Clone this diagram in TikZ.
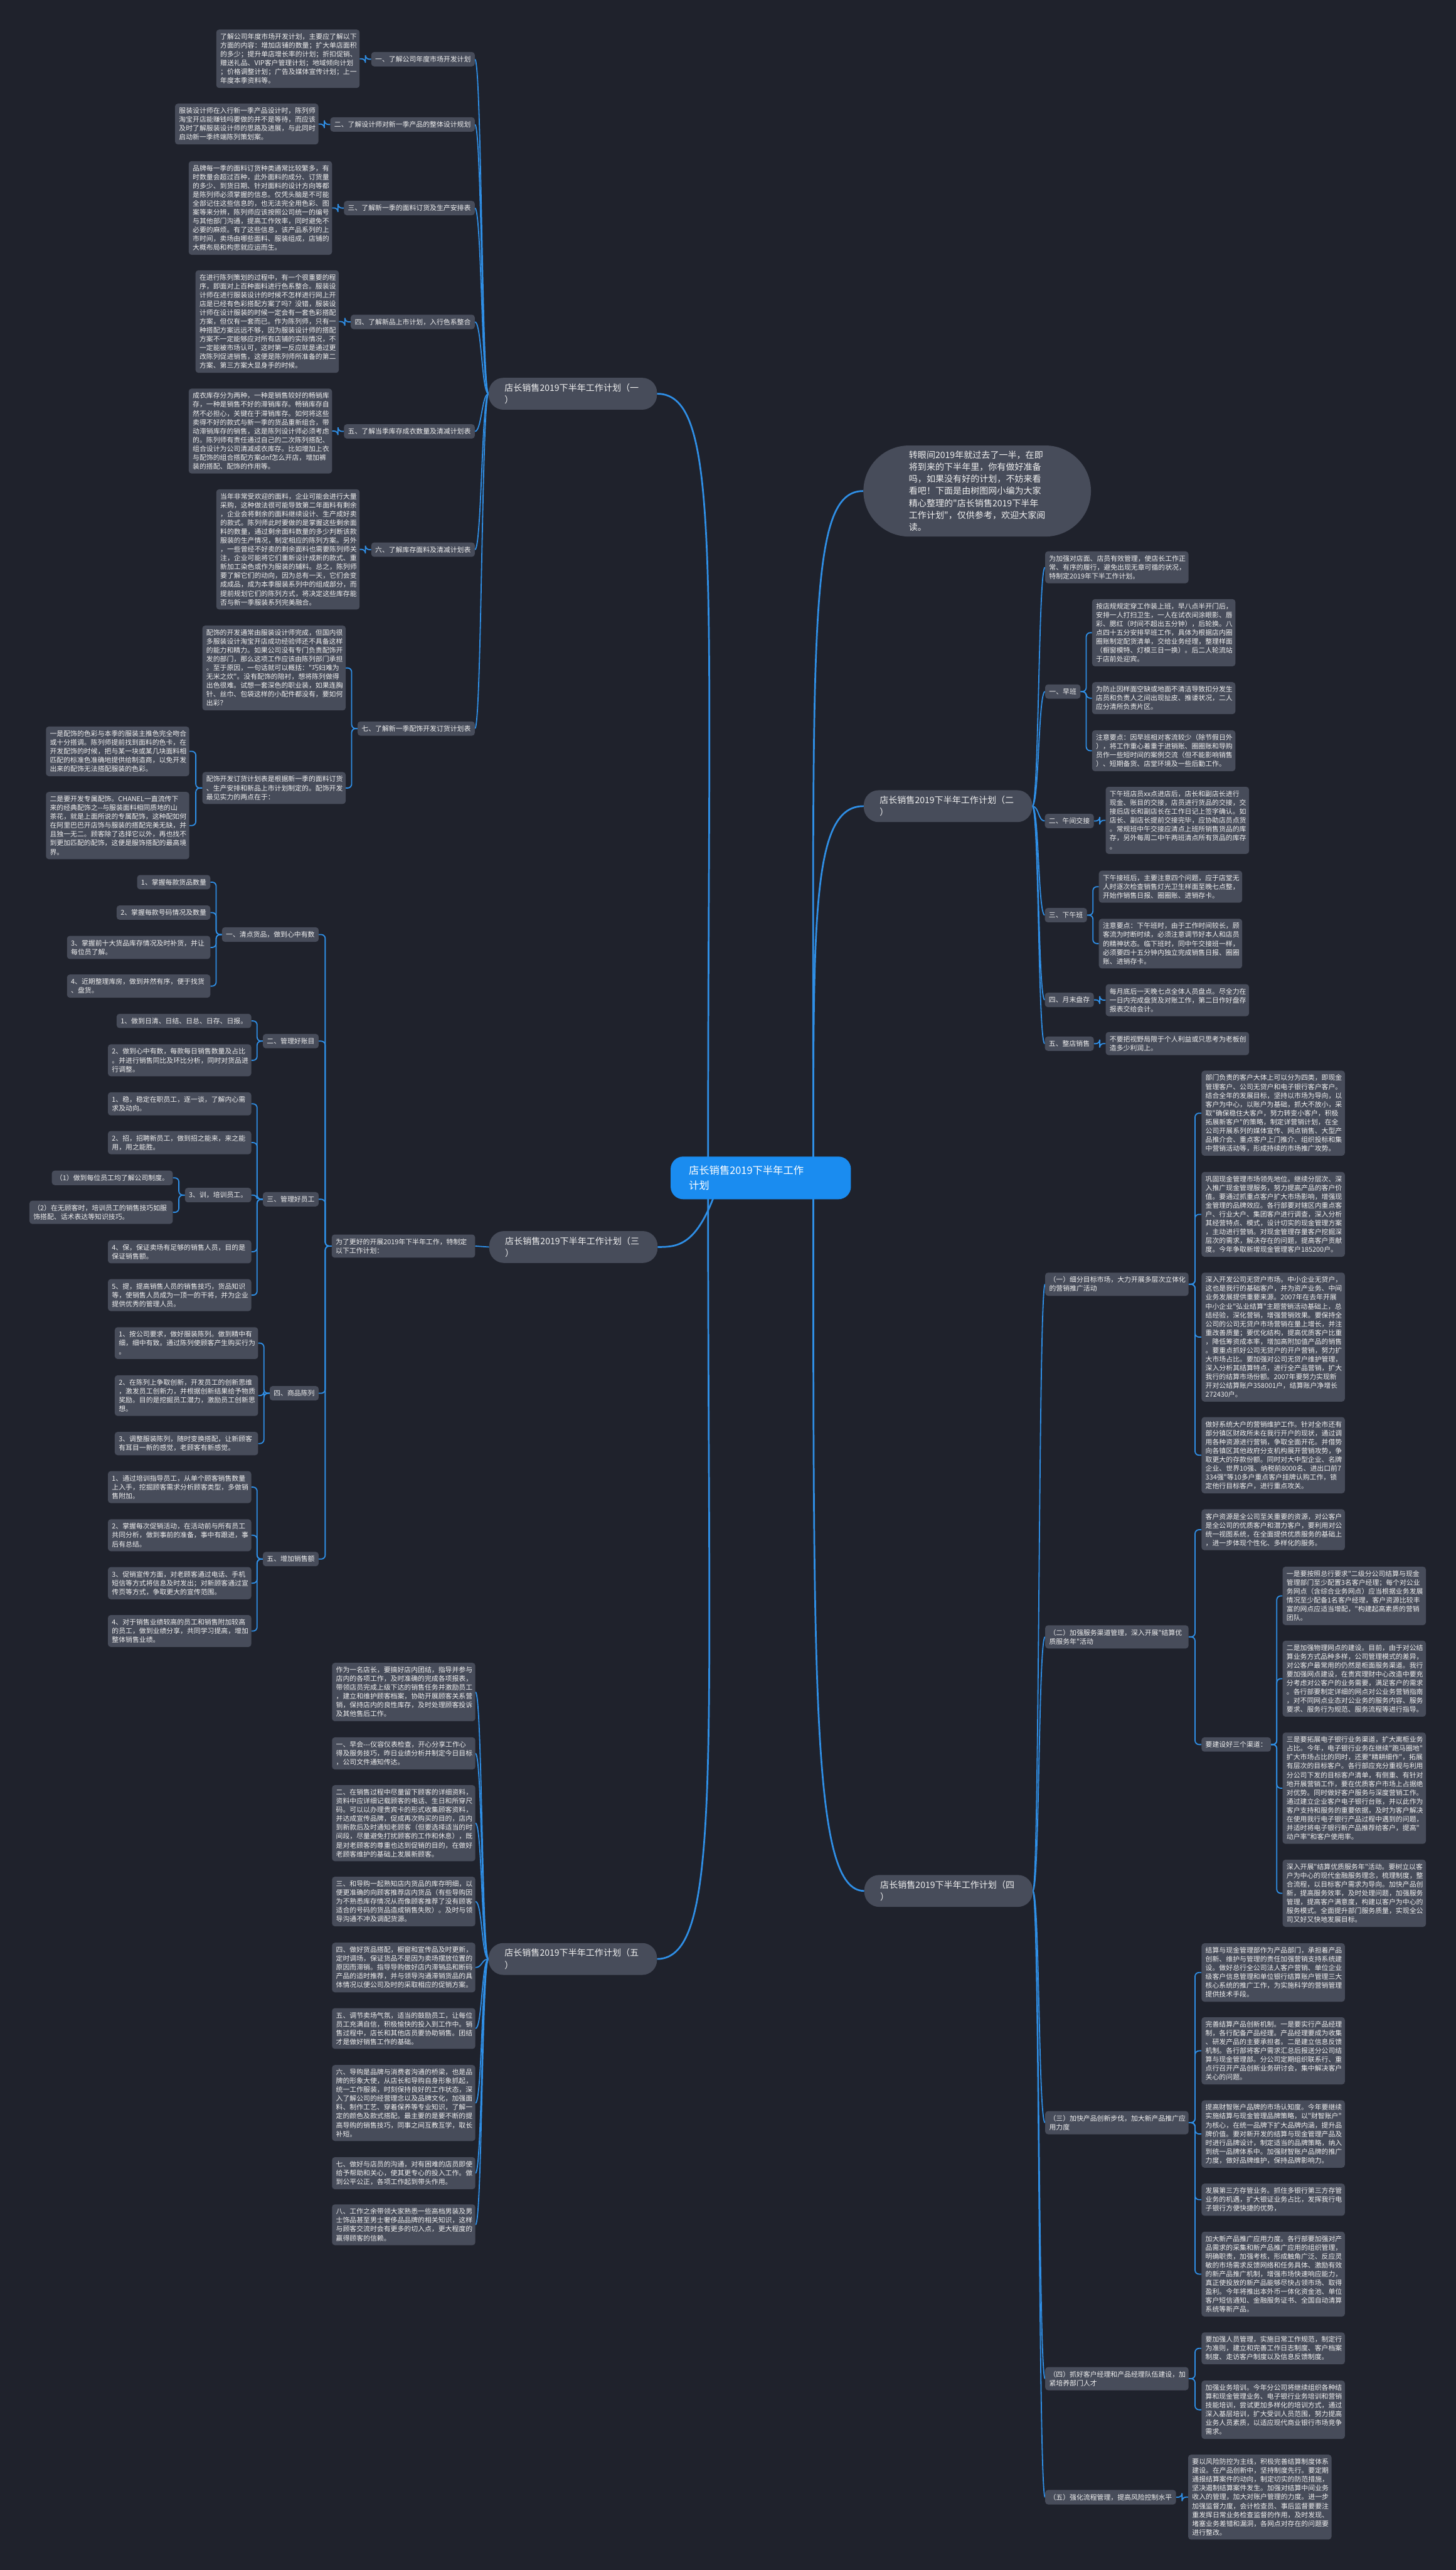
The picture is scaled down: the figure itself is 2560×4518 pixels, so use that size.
\documentclass[tikz,border=0pt]{standalone}
\usepackage{fontspec}
\setmainfont{Noto Sans CJK SC}[Ligatures=TeXOff]
\usetikzlibrary{calc}
\pgfdeclarelayer{back}\pgfdeclarelayer{bg}
\pgfsetlayers{back,bg,main}
\definecolor{bgc}{HTML}{1F222C}
\definecolor{boxc}{HTML}{474C5A}
\definecolor{linec}{HTML}{2F8FE6}
\definecolor{txtc}{HTML}{F0F0F0}
\definecolor{ctrc}{HTML}{1A8CF0}
\newcommand\bodyf{\fontsize{12}{15.5}\selectfont}
\newcommand\lvf{\fontsize{15.5}{21}\selectfont}
\newcommand\ctf{\fontsize{18}{26}\selectfont}
\newcommand\bubf{\fontsize{15.5}{21.2}\selectfont}
\newcommand\lcv[2]{\draw[cv] (#1.west) .. controls +(-12,0) and +(12,0) .. (#2.east);}
\newcommand\rcv[2]{\draw[cv] (#1.east) .. controls +(12,0) and +(-12,0) .. (#2.west);}
\newcommand\leb[2]{\draw[eb] (#1.west) -- ($(#1.west)!0.5!(#1.west-|#2.east)$) |- (#2.east);}
\newcommand\reb[2]{\draw[eb] (#1.east) -- ($(#1.east)!0.5!(#1.east-|#2.west)$) |- (#2.west);}
\begin{document}
\begin{tikzpicture}[x=1pt,y=-1pt,
 bx/.style={fill=boxc,rounded corners=5pt,text=txtc,font=\bodyf,inner xsep=7pt,inner ysep=7pt,align=left},
 wb/.style={bx,text width=238pt},
 lv/.style={fill=boxc,rounded corners=26pt,text=txtc,font=\lvf,inner xsep=28pt,inner ysep=8pt,text width=240pt,minimum height=56pt,align=left},
 eb/.style={draw=linec,line width=2pt,rounded corners=7pt},
 cv/.style={draw=linec,line width=2pt},
 mc/.style={draw=linec,line width=3pt}]
\useasboundingbox (0,0) rectangle (2560,4518);
\begin{pgfonlayer}{back}\fill[bgc] (0,0) rectangle (2560,4518);\end{pgfonlayer}

% ---------- center ----------
\node[fill=ctrc,rounded corners=22pt,text=white,font=\ctf,inner xsep=32pt,inner ysep=10pt,text width=253pt,minimum height=75pt,align=left,anchor=north west] (C) at (1179,2033) {店长销售2019下半年工作\\计划};

% ---------- (一) ----------
\node[lv,anchor=north west] (N1) at (859,664) {店长销售2019下半年工作计划（一\\）};
\node[bx,anchor=north east] (L11) at (835,91.3) {一、了解公司年度市场开发计划};
\node[wb,anchor=north east] (A1) at (632.5,51.8) {了解公司年度市场开发计划，主要应了解以下\\方面的内容：增加店铺的数量；扩大单店面积\\的多少；提升单店增长率的计划；折扣促销、\\赠送礼品、VIP客户管理计划；地域倾向计划\\；价格调整计划；广告及媒体宣传计划；上一\\年度本季资料等。};
\node[bx,anchor=north east] (L12) at (835,206) {二、了解设计师对新一季产品的整体设计规划};
\node[wb,anchor=north east] (A2) at (560,182) {服装设计师在入行新一季产品设计时，陈列师\\淘宝开店能赚钱吗要做的并不是等待，而应该\\及时了解服装设计师的思路及进展，与此同时\\启动新一季终端陈列策划案。};
\node[bx,anchor=north east] (L13) at (835,353) {三、了解新一季的面料订货及生产安排表};
\node[wb,anchor=north east] (A3) at (584,283) {品牌每一季的面料订货种类通常比较繁多，有\\时数量会超过百种，此外面料的成分、订货量\\的多少、到货日期、针对面料的设计方向等都\\是陈列师必须掌握的信息。仅凭头脑是不可能\\全部记住这些信息的，也无法完全用色彩、图\\案等来分辨，陈列师应该按照公司统一的编号\\与其他部门沟通，提高工作效率，同时避免不\\必要的麻烦。有了这些信息，该产品系列的上\\市时间，卖场由哪些面料、服装组成，店铺的\\大概布局和构思就应运而生。};
\node[bx,anchor=north east] (L14) at (835,553) {四、了解新品上市计划，入行色系整合};
\node[wb,anchor=north east] (A4) at (596,475) {在进行陈列策划的过程中，有一个很重要的程\\序，即面对上百种面料进行色系整合。服装设\\计师在进行服装设计的时候不怎样进行网上开\\店是已经有色彩搭配方案了吗？没错，服装设\\计师在设计服装的时候一定会有一套色彩搭配\\方案，但仅有一套而已。作为陈列师，只有一\\种搭配方案远远不够，因为服装设计师的搭配\\方案不一定能够应对所有店铺的实际情况，不\\一定能被市场认可，这时第一反应就是通过更\\改陈列促进销售，这便是陈列师所准备的第二\\方案、第三方案大显身手的时候。};
\node[bx,anchor=north east] (L15) at (835,745.6) {五、了解当季库存成衣数量及清减计划表};
\node[wb,anchor=north east] (A5) at (584,683) {成衣库存分为两种，一种是销售较好的畅销库\\存，一种是销售不好的滞销库存。畅销库存自\\然不必担心，关键在于滞销库存。如何将这些\\卖得不好的款式与新一季的货品重新组合，带\\动滞销库存的销售，这是陈列设计师必须考虑\\的。陈列师有责任通过自己的二次陈列搭配、\\组合设计为公司清减成衣库存。比如增加上衣\\与配饰的组合搭配方案dnf怎么开店，增加裤\\装的搭配、配饰的作用等。};
\node[bx,anchor=north east] (L16) at (835,953.5) {六、了解库存面料及清减计划表};
\node[wb,anchor=north east] (A6) at (632.5,860) {当年非常受欢迎的面料，企业可能会进行大量\\采购，这种做法很可能导致第二年面料有剩余\\，企业会将剩余的面料继续设计、生产成好卖\\的款式。陈列师此时要做的是掌握这些剩余面\\料的数量，通过剩余面料数量的多少判断该款\\服装的生产情况，制定相应的陈列方案。另外\\，一些曾经不好卖的剩余面料也需要陈列师关\\注，企业可能将它们重新设计成新的款式、重\\新加工染色或作为服装的辅料。总之，陈列师\\要了解它们的动向，因为总有一天，它们会变\\成成品，成为本季服装系列中的组成部分，而\\提前规划它们的陈列方式，将决定这些库存能\\否与新一季服装系列完美融合。};
\node[bx,anchor=north east] (L17) at (835,1268) {七、了解新一季配饰开发订货计划表};
\node[wb,anchor=north east] (A7a) at (608,1099.5) {配饰的开发通常由服装设计师完成，但国内很\\多服装设计淘宝开店成功经验师还不具备这样\\的能力和精力。如果公司没有专门负责配饰开\\发的部门，那么这项工作应该由陈列部门承担\\。至于原因，一句话就可以概括："巧妇难为\\无米之炊"。没有配饰的陪衬，想将陈列做得\\出色很难。试想一套深色的职业装，如果连胸\\针、丝巾、包袋这样的小配件都没有，要如何\\出彩？};
\node[wb,anchor=north east] (A7b) at (608,1357) {配饰开发订货计划表是根据新一季的面料订货\\、生产安排和新品上市计划制定的。配饰开发\\最见实力的两点在于：};
\node[wb,anchor=north east] (A7b1) at (333,1277) {一是配饰的色彩与本季的服装主推色完全吻合\\或十分搭调。陈列师提前找到面料的色卡，在\\开发配饰的时候，把与某一块或某几块面料相\\匹配的标准色准确地提供给制造商，以免开发\\出来的配饰无法搭配服装的色彩。};
\node[wb,anchor=north east] (A7b2) at (333,1392) {二是要开发专属配饰。CHANEL一直流传下\\来的经典配饰之-{}-与服装面料相同质地的山\\茶花，就是上面所说的专属配饰，这种配如何\\在阿里巴巴开店饰与服装的搭配完美无缺，并\\且独一无二。顾客除了选择它以外，再也找不\\到更加匹配的配饰，这便是服饰搭配的最高境\\界。};

% ---------- (三) ----------
\node[lv,anchor=north west] (N3) at (860,2164) {店长销售2019下半年工作计划（三\\）};
\node[wb,anchor=north east] (T0) at (835.5,2170) {为了更好的开展2019年下半年工作，特制定\\以下工作计划：};
\node[bx,anchor=north east] (T1) at (560.5,1630) {一、清点货品，做到心中有数};
\node[bx,anchor=north east] (T1a) at (370,1538) {1、掌握每款货品数量};
\node[bx,anchor=north east] (T1b) at (370,1591.5) {2、掌握每款号码情况及数量};
\node[wb,anchor=north east] (T1c) at (370,1645) {3、掌握前十大货品库存情况及时补货，并让\\每位员了解。};
\node[wb,anchor=north east] (T1d) at (370,1713) {4、近期整理库房，做到井然有序，便于找货\\、盘货。};
\node[bx,anchor=north east] (T2) at (560.5,1817.5) {二、管理好账目};
\node[bx,anchor=north east] (T2a) at (442,1782) {1、做到日清、日结、日总、日存、日报。};
\node[wb,anchor=north east] (T2b) at (442,1835.7) {2、做到心中有数，每款每日销售数量及占比\\。并进行销售同比及环比分析，同时对货品进\\行调整。};
\node[bx,anchor=north east] (T3) at (560.5,2095.5) {三、管理好员工};
\node[wb,anchor=north east] (T3a) at (442,1920) {1、稳，稳定在职员工，逐一谈，了解内心需\\求及动向。};
\node[wb,anchor=north east] (T3b) at (442,1988) {2、招，招聘新员工，做到招之能来，来之能\\用，用之能胜。};
\node[bx,anchor=north east] (T3c) at (442,2088) {3、训，培训员工。};
\node[bx,anchor=north east] (T3c1) at (304,2057.7) {（1）做到每位员工均了解公司制度。};
\node[wb,anchor=north east] (T3c2) at (304,2110.6) {（2）在无顾客时，培训员工的销售技巧如服\\饰搭配、话术表达等知识技巧。};
\node[wb,anchor=north east] (T3d) at (442,2180) {4、保，保证卖场有足够的销售人员，目的是\\保证销售额。};
\node[wb,anchor=north east] (T3e) at (442,2248.5) {5、提，提高销售人员的销售技巧，货品知识\\等，使销售人员成为一顶一的干将，并为企业\\提供优秀的管理人员。};
\node[bx,anchor=north east] (T4) at (560.5,2436.5) {四、商品陈列};
\node[wb,anchor=north east] (T4a) at (454,2333) {1、按公司要求，做好服装陈列。做到精中有\\细，细中有致。通过陈列使顾客产生购买行为\\。};
\node[wb,anchor=north east] (T4b) at (454,2417.5) {2、在陈列上争取创新，开发员工的创新思维\\，激发员工创新力，并根据创新结果给予物质\\奖励。目的是挖掘员工潜力，激励员工创新思\\想。};
\node[wb,anchor=north east] (T4c) at (454,2517) {3、调整服装陈列，随时变换搭配，让新顾客\\有耳目一新的感觉，老顾客有新感觉。};
\node[bx,anchor=north east] (T5) at (560.5,2728) {五、增加销售额};
\node[wb,anchor=north east] (T5a) at (442,2586) {1、通过培训指导员工，从单个顾客销售数量\\上入手，挖掘顾客需求分析顾客类型，多做销\\售附加。};
\node[wb,anchor=north east] (T5b) at (442,2670.6) {2、掌握每次促销活动，在活动前与所有员工\\共同分析，做到事前的准备，事中有跟进，事\\后有总结。};
\node[wb,anchor=north east] (T5c) at (442,2754.7) {3、促销宣传方面，对老顾客通过电话、手机\\短信等方式将信息及时发出；对新顾客通过宣\\传页等方式，争取更大的宣传范围。};
\node[wb,anchor=north east] (T5d) at (442,2839) {4、对于销售业绩较高的员工和销售附加较高\\的员工，做到业绩分享，共同学习提高，增加\\整体销售业绩。};

% ---------- (五) ----------
\node[lv,anchor=north west] (N5) at (859,3415.6) {店长销售2019下半年工作计划（五\\）};
\node[wb,anchor=north east] (F1) at (836,2923) {作为一名店长，要搞好店内团结，指导并参与\\店内的各项工作，及时准确的完成各项报表，\\带领店员完成上级下达的销售任务并激励员工\\，建立和维护顾客档案，协助开展顾客关系营\\销，保持店内的良性库存，及时处理顾客投诉\\及其他售后工作。};
\node[wb,anchor=north east] (F2) at (836,3054) {一、早会-{}-{}-仪容仪表检查，开心分享工作心\\得及服务技巧，昨日业绩分析并制定今日目标\\，公司文件通知传达。};
\node[wb,anchor=north east] (F3) at (836,3138) {二、在销售过程中尽量留下顾客的详细资料，\\资料中应详细记载顾客的电话、生日和所穿尺\\码。可以以办理贵宾卡的形式收集顾客资料，\\并达成宣传品牌，促成再次购买的目的，店内\\到新款后及时通知老顾客（但要选择适当的时\\间段，尽量避免打扰顾客的工作和休息），既\\是对老顾客的尊重也达到促销的目的，在做好\\老顾客维护的基础上发展新顾客。};
\node[wb,anchor=north east] (F4) at (836,3299) {三、和导购一起熟知店内货品的库存明细，以\\便更准确的向顾客推荐店内货品（有些导购因\\为不熟悉库存情况从而像顾客推荐了没有顾客\\适合的号码的货品造成销售失败）。及时与领\\导沟通不冲及调配货源。};
\node[wb,anchor=north east] (F5) at (836,3415) {四、做好货品搭配，橱窗和宣传品及时更新，\\定时调场，保证货品不是因为卖场摆放位置的\\原因而滞销。指导导购做好店内滞销品和断码\\产品的适时推荐，并与领导沟通滞销货品的具\\体情况以便公司及时的采取相应的促销方案。};
\node[wb,anchor=north east] (F6) at (836,3530) {五、调节卖场气氛，适当的鼓励员工，让每位\\员工充满自信，积极愉快的投入到工作中。销\\售过程中，店长和其他店员要协助销售。团结\\才是做好销售工作的基础。};
\node[wb,anchor=north east] (F7) at (836,3630) {六、导购是品牌与消费者沟通的桥梁，也是品\\牌的形象大使，从店长和导购自身形象抓起，\\统一工作服装，时刻保持良好的工作状态，深\\入了解公司的经营理念以及品牌文化，加强面\\料、制作工艺、穿着保养等专业知识，了解一\\定的颜色及款式搭配。最主要的是要不断的提\\高导购的销售技巧，同事之间互教互学，取长\\补短。};
\node[wb,anchor=north east] (F8) at (836,3792) {七、做好与店员的沟通，对有困难的店员即使\\给予帮助和关心，使其更专心的投入工作。做\\到公平公正，各项工作起到带头作用。};
\node[wb,anchor=north east] (F9) at (836,3875) {八、工作之余带领大家熟悉一些高档男装及男\\士饰品甚至男士奢侈品品牌的相关知识，这样\\与顾客交流时会有更多的切入点，更大程度的\\赢得顾客的信赖。};

% ---------- intro bubble ----------
\node[fill=boxc,rounded corners=80pt,text=txtc,font=\bubf,inner xsep=80pt,inner ysep=8pt,text width=240pt,minimum height=160pt,align=left,anchor=north west] (B) at (1518,783) {转眼间2019年就过去了一半，在即\\将到来的下半年里，你有做好准备\\吗，如果没有好的计划，不妨来看\\看吧！下面是由树图网小编为大家\\精心整理的"店长销售2019下半年\\工作计划"，仅供参考，欢迎大家阅\\读。};

% ---------- (二) ----------
\node[lv,anchor=north east] (N2) at (1815,1389) {店长销售2019下半年工作计划（二\\）};
\node[wb,anchor=north west] (R0) at (1837.5,969) {为加强对店面、店员有效管理，使店长工作正\\常、有序的履行，避免出现无章可循的状况，\\特制定2019年下半工作计划。};
\node[bx,anchor=north west] (R1) at (1837.5,1203) {一、早班};
\node[wb,anchor=north west] (R1a) at (1920,1053) {按店规规定穿工作装上班，早八点半开门后，\\安排一人打扫卫生，一人在试衣间涂眼影、唇\\彩、腮红（时间不超出五分钟），后轮换。八\\点四十五分安排早班工作，具体为根据店内圈\\圈账制定配货清单，交给业务经理，整理样面\\（橱窗模特、灯模三日一换）。后二人轮流站\\于店前处迎宾。};
\node[wb,anchor=north west] (R1b) at (1920,1199) {为防止因样面空缺或地面不清洁导致扣分发生\\店员和负责人之间出现扯皮、推诿状况，二人\\应分清所负责片区。};
\node[wb,anchor=north west] (R1c) at (1920,1283.6) {注意要点：因早班相对客流较少（除节假日外\\），将工作重心着重于进销账、圈圈账和导购\\员作一些短时间的案例交流（但不能影响销售\\）、短期备货、店堂环境及一些后勤工作。};
\node[bx,anchor=north west] (R2) at (1837,1430.5) {二、午间交接};
\node[wb,anchor=north west] (R2a) at (1944,1383) {下午班店员xx点进店后，店长和副店长进行\\现金、账目的交接，店员进行货品的交接，交\\接后店长和副店长在工作日记上签字确认。如\\店长、副店长提前交接完毕，应协助店员点货\\。常规班中午交接应清点上班所销售货品的库\\存，另外每周二中午两班清点所有货品的库存\\。};
\node[bx,anchor=north west] (R3) at (1837,1596) {三、下午班};
\node[wb,anchor=north west] (R3a) at (1932,1530.5) {下午接班后，主要注意四个问题，应于店堂无\\人时逐次检查销售灯光卫生样面至晚七点整，\\开始作销售日报、圈圈账、进销存卡。};
\node[wb,anchor=north west] (R3b) at (1932,1615) {注意要点：下午班时，由于工作时间较长，顾\\客流为时断时续，必须注意调节好本人和店员\\的精神状态。临下班时，同中午交接班一样，\\必须要四十五分钟内独立完成销售日报、圈圈\\账、进销存卡。};
\node[bx,anchor=north west] (R4) at (1837,1745) {四、月末盘存};
\node[wb,anchor=north west] (R4a) at (1944,1730) {每月底后一天晚七点全体人员盘点。尽全力在\\一日内完成盘货及对账工作，第二日作好盘存\\报表交给会计。};
\node[bx,anchor=north west] (R5) at (1837,1822) {五、整店销售};
\node[wb,anchor=north west] (R5a) at (1944,1814) {不要把视野局限于个人利益或只思考为老板创\\造多少利润上。};

% ---------- (四) ----------
\node[lv,anchor=north east] (N4) at (1816,3296) {店长销售2019下半年工作计划（四\\）};
\node[wb,anchor=north west] (S1) at (1837.6,2237) {（一）细分目标市场，大力开展多层次立体化\\的营销推广活动};
\node[wb,anchor=north west] (S1a) at (2112.5,1882) {部门负责的客户大体上可以分为四类，即现金\\管理客户、公司无贷户和电子银行客户客户。\\结合全年的发展目标，坚持以市场为导向，以\\客户为中心，以账户为基础，抓大不放小，采\\取"确保稳住大客户，努力转变小客户，积极\\拓展新客户"的策略，制定详营销计划，在全\\公司开展系列的媒体宣传、网点销售、大型产\\品推介会、重点客户上门推介、组织投标和集\\中营销活动等，形成持续的市场推广攻势。};
\node[wb,anchor=north west] (S1b) at (2112.5,2060) {巩固现金管理市场领先地位。继续分层次、深\\入推广现金管理服务，努力提高产品的客户价\\值。要通过抓重点客户扩大市场影响，增强现\\金管理的品牌效应。各行部要对辖区内重点客\\户、行业大户、集团客户进行调查，深入分析\\其经营特点、模式，设计切实的现金管理方案\\，主动进行营销。对现金管理存量客户挖掘深\\层次的需求，解决存在的问题，提高客户贡献\\度。今年争取新增现金管理客户185200户。};
\node[wb,anchor=north west] (S1c) at (2112.5,2237) {深入开发公司无贷户市场。中小企业无贷户，\\这也是我行的基础客户，并为资产业务、中间\\业务发展提供重要来源。2007年在去年开展\\中小企业"弘业结算"主题营销活动基础上，总\\结经验，深化营销，增强营销效果。要保持全\\公司的公司无贷户市场营销在量上增长，并注\\重改善质量；要优化结构，提高优质客户比重\\，降低筹资成本率，增加高附加值产品的销售\\。要重点抓好公司无贷户的开户营销，努力扩\\大市场占比。要加强对公司无贷户维护管理，\\深入分析其结算特点，进行全产品营销，扩大\\我行的结算市场份额。2007年要努力实现新\\开对公结算账户358001户，结算账户净增长\\272430户。};
\node[wb,anchor=north west] (S1d) at (2112.5,2491) {做好系统大户的营销维护工作。针对全市还有\\部分镇区财政所未在我行开户的现状，通过调\\用各种资源进行营销，争取全面开花。并借势\\向各镇区其他政府分支机构展开营销攻势，争\\取更大的存款份额。同时对大中型企业、名牌\\企业、世界10强、纳税前8000名、进出口前7\\334强"等10多户重点客户挂牌认购工作，锁\\定他行目标客户，进行重点攻关。};
\node[wb,anchor=north west] (S2) at (1837.6,2857) {（二）加强服务渠道管理，深入开展"结算优\\质服务年"活动};
\node[wb,anchor=north west] (S2a) at (2112.5,2653) {客户资源是全公司至关重要的资源，对公客户\\是全公司的优质客户和潜力客户，要利用对公\\统一视图系统，在全面提供优质服务的基础上\\，进一步体现个性化、多样化的服务。};
\node[bx,anchor=north west] (S2b) at (2112.5,3054) {要建设好三个渠道：};
\node[wb,anchor=north west] (S2b1) at (2255,2754) {一是要按照总行要求"二级分公司结算与现金\\管理部门至少配置3名客户经理；每个对公业\\务网点（含综合业务网点）应当根据业务发展\\情况至少配备1名客户经理，客户资源比较丰\\富的网点应适当增配，"构建起高素质的营销\\团队。};
\node[wb,anchor=north west] (S2b2) at (2255,2884) {二是加强物理网点的建设。目前，由于对公结\\算业务方式品种多样，公司管理模式的差异，\\对公客户最常用的仍然是柜面服务渠道。我行\\要加强网点建设，在贵宾理财中心改造中要充\\分考虑对公客户的业务需要，满足客户的需求\\。各行部要制定详细的网点对公业务营销指南\\，对不同网点业态对公业务的服务内容、服务\\要求、服务行为规范、服务流程等进行指导。};
\node[wb,anchor=north west] (S2b3) at (2255,3045.5) {三是要拓展电子银行业务渠道，扩大离柜业务\\占比。今年，电子银行业务在继续"跑马圈地"\\扩大市场占比的同时，还要"精耕细作"，拓展\\有层次的目标客户。各行部应充分重视与利用\\分公司下发的目标客户清单，有侧重、有针对\\地开展营销工作，要在优质客户市场上占据绝\\对优势。同时做好客户服务与深度营销工作。\\通过建立企业客户电子银行台账，并以此作为\\客户支持和服务的重要依据，及时为客户解决\\在使用我行电子银行产品过程中遇到的问题，\\并适时将电子银行新产品推荐给客户，提高"\\动户率"和客户使用率。};
\node[wb,anchor=north west] (S2b4) at (2255,3269) {深入开展"结算优质服务年"活动。要树立以客\\户为中心的现代金融服务理念，梳理制度，整\\合流程，以目标客户需求为导向。加快产品创\\新，提高服务效率，及时处理问题，加强服务\\管理，提高客户满意度，构建以客户为中心的\\服务模式。全面提升部门服务质量，实现全公\\司又好又快地发展目标。};
\node[wb,anchor=north west] (S3) at (1837.6,3711) {（三）加快产品创新步伐，加大新产品推广应\\用力度};
\node[wb,anchor=north west] (S3a) at (2112.5,3416) {结算与现金管理部作为产品部门，承担着产品\\创新、维护与管理的责任加强营销支持系统建\\设。做好总行全公司法人客户营销、单位企业\\级客户信息管理和单位银行结算账户管理三大\\核心系统的推广工作，为实施科学的营销管理\\提供技术手段。};
\node[wb,anchor=north west] (S3b) at (2112.5,3546) {完善结算产品创新机制。一是要实行产品经理\\制，各行配备产品经理。产品经理要成为收集\\、研发产品的主要承担者。二是建立信息反馈\\机制。各行部将客户需求汇总后报送分公司结\\算与现金管理部。分公司定期组织联系行、重\\点行召开产品创新业务研讨会，集中解决客户\\关心的问题。};
\node[wb,anchor=north west] (S3c) at (2112.5,3692) {提高财智账户品牌的市场认知度。今年要继续\\实施结算与现金管理品牌策略，以"财智账户"\\为核心，在统一品牌下扩大品牌内涵，提升品\\牌价值。要对新开发的结算与现金管理产品及\\时进行品牌设计，制定适当的品牌策略，纳入\\到统一品牌体系中。加强财智账户品牌的推广\\力度，做好品牌维护，保持品牌影响力。};
\node[wb,anchor=north west] (S3d) at (2112.5,3838.5) {发展第三方存管业务。抓住多银行第三方存管\\业务的机遇，扩大银证业务占比，发挥我行电\\子银行方便快捷的优势，};
\node[wb,anchor=north west] (S3e) at (2112.5,3923) {加大新产品推广应用力度。各行部要加强对产\\品需求的采集和新产品推广应用的组织管理，\\明确职责，加强考核，形成触角广泛、反应灵\\敏的市场需求反馈网络和任务具体、激励有效\\的新产品推广机制，增强市场快速响应能力，\\真正使投放的新产品能够尽快占领市场、取得\\盈利。今年将推出本外币一体化资金池、单位\\客户短信通知、金融服务证书、全国自动清算\\系统等新产品。};
\node[wb,anchor=north west] (S4) at (1837.6,4161) {（四）抓好客户经理和产品经理队伍建设，加\\紧培养部门人才};
\node[wb,anchor=north west] (S4a) at (2112.5,4100) {要加强人员管理，实施日常工作规范，制定行\\为准则，建立和完善工作日志制度、客户档案\\制度、走访客户制度以及信息反馈制度。};
\node[wb,anchor=north west] (S4b) at (2112.5,4184.7) {加强业务培训。今年分公司将继续组织各种结\\算和现金管理业务、电子银行业务培训和营销\\技能培训，尝试更加多样化的培训方式，通过\\深入基层培训，扩大受训人员范围，努力提高\\业务人员素质，以适应现代商业银行市场竞争\\需求。};
\node[bx,anchor=north west] (S5) at (1837.6,4377) {（五）强化流程管理，提高风险控制水平};
\node[wb,anchor=north west] (S5a) at (2089,4315) {要以风险防控为主线，积极完善结算制度体系\\建设。在产品创新中，坚持制度先行。要定期\\通报结算案件的动向，制定切实的防范措施，\\坚决遏制结算案件发生。加强对结算中间业务\\收入的管理，加大对账户管理的力度。进一步\\加强监督力度，会计检查员、事后监督要要注\\重发挥日常业务检查监督的作用，及时发现、\\堵塞业务差错和漏洞，各网点对存在的问题要\\进行整改。};

% ---------- connectors ----------
\begin{pgfonlayer}{bg}
\draw[mc] (1245,2040) .. controls (1245,1000) and (1270,692) .. (N1.east);
\draw[mc] (1260,2090) .. controls (1225,2192) and (1190,2192) .. (N3.east);
\draw[mc] (1245,2100) .. controls (1245,3100) and (1270,3443.6) .. (N5.east);
\draw[mc] (1430,2040) .. controls (1430,1100) and (1420,863) .. (B.west);
\draw[mc] (1430,2040) .. controls (1430,1600) and (1430,1416.5) .. (N2.west);
\draw[mc] (1430,2100) .. controls (1430,3000) and (1430,3324) .. (N4.west);
\foreach \c in {L11,L12,L13,L14,L15,L16,L17} {\lcv{N1}{\c}}
\leb{L11}{A1}\leb{L12}{A2}\leb{L13}{A3}\leb{L14}{A4}\leb{L15}{A5}\leb{L16}{A6}
\leb{L17}{A7a}\leb{L17}{A7b}\leb{A7b}{A7b1}\leb{A7b}{A7b2}
\lcv{N3}{T0}
\foreach \c in {T1,T2,T3,T4,T5} {\leb{T0}{\c}}
\foreach \c in {T1a,T1b,T1c,T1d} {\leb{T1}{\c}}
\foreach \c in {T2a,T2b} {\leb{T2}{\c}}
\foreach \c in {T3a,T3b,T3c,T3d,T3e} {\leb{T3}{\c}}
\foreach \c in {T3c1,T3c2} {\leb{T3c}{\c}}
\foreach \c in {T4a,T4b,T4c} {\leb{T4}{\c}}
\foreach \c in {T5a,T5b,T5c,T5d} {\leb{T5}{\c}}
\foreach \c in {F1,F2,F3,F4,F5,F6,F7,F8,F9} {\lcv{N5}{\c}}
\foreach \c in {R0,R1,R2,R3,R4,R5} {\rcv{N2}{\c}}
\foreach \c in {R1a,R1b,R1c} {\reb{R1}{\c}}
\reb{R2}{R2a}\reb{R3}{R3a}\reb{R3}{R3b}\reb{R4}{R4a}\reb{R5}{R5a}
\foreach \c in {S1,S2,S3,S4,S5} {\rcv{N4}{\c}}
\foreach \c in {S1a,S1b,S1c,S1d} {\reb{S1}{\c}}
\foreach \c in {S2a,S2b} {\reb{S2}{\c}}
\foreach \c in {S2b1,S2b2,S2b3,S2b4} {\reb{S2b}{\c}}
\foreach \c in {S3a,S3b,S3c,S3d,S3e} {\reb{S3}{\c}}
\foreach \c in {S4a,S4b} {\reb{S4}{\c}}
\reb{S5}{S5a}
\end{pgfonlayer}
\end{tikzpicture}
\end{document}
